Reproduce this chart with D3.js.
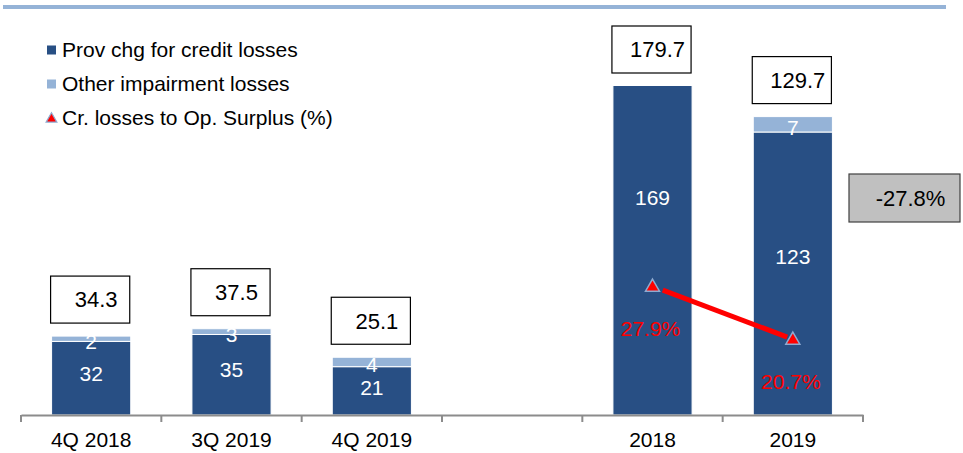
<!DOCTYPE html>
<html>
<head>
<meta charset="utf-8">
<script src="https://cdn.jsdelivr.net/npm/d3@7"></script>
<style>
  html, body { margin: 0; padding: 0; background: #fff; }
  svg { display: block; font-family: "Liberation Sans", Arial, sans-serif; }
</style>
</head>
<body>
<svg id="chart" width="963" height="453"></svg>
<script>
// ---- data ----
const categories = ["4Q 2018", "3Q 2019", "4Q 2019", "", "2018", "2019"];
const provValues = [32, 35, 21, null, 169, 123];
const otherValues = [2.3, 2.5, 4.1, null, 10.7, 6.7];
const totalValues = [34.3, 37.5, 25.1, null, 179.7, 129.7];
const ratioCategories = ["2018", "2019"];
const ratioValues = [27.9, 20.7];
const legendLabels = ["Prov chg for credit losses", "Other impairment losses", "Cr. losses to Op. Surplus (%)"];

// ---- styles ----
const DARK = "#284f84", LIGHT = "#95b3d7", RED = "#ff0000";
const FONT = 21;

const svg = d3.select("#chart");
const plotTop = 86, plotBottom = 415;

const x = d3.scaleBand()
  .domain(d3.range(categories.length))
  .range([21, 863])
  .paddingInner(0.436)
  .paddingOuter(0.218);

const y = d3.scaleLinear().domain([0, 143]).range([plotBottom, plotTop]);
const yPct = d3.scaleLinear().domain([10.4, 55.1]).range([plotBottom, plotTop]);

// top decorative rule
svg.append("rect").attr("x", 3).attr("y", 5).attr("width", 943).attr("height", 4).attr("fill", LIGHT);

// clip for plot area
svg.append("defs").append("clipPath").attr("id", "plotclip")
  .append("rect").attr("x", 0).attr("y", plotTop).attr("width", 963).attr("height", plotBottom - plotTop);

// stacked data
const rows = categories.map((c, i) => ({ i, prov: provValues[i], other: otherValues[i], total: totalValues[i] }))
  .filter(d => d.prov != null);

const bars = svg.append("g").attr("clip-path", "url(#plotclip)");
bars.selectAll("rect.prov").data(rows).join("rect")
  .attr("class", "prov")
  .attr("x", d => x(d.i)).attr("width", x.bandwidth())
  .attr("y", d => y(d.prov)).attr("height", d => y(0) - y(d.prov))
  .attr("fill", DARK).attr("stroke", "#fff").attr("stroke-width", 1);
bars.selectAll("rect.other").data(rows).join("rect")
  .attr("class", "other")
  .attr("x", d => x(d.i)).attr("width", x.bandwidth())
  .attr("y", d => y(d.prov + d.other)).attr("height", d => y(d.prov) - y(d.prov + d.other))
  .attr("fill", LIGHT).attr("stroke", "#fff").attr("stroke-width", 1);

// segment labels
const fmt0 = d3.format(".0f");
svg.append("g").selectAll("text").data(rows).join("text")
  .attr("x", d => x(d.i) + x.bandwidth() / 2)
  .attr("y", d => y(d.prov * 0.56))
  .attr("dy", "0.35em")
  .attr("text-anchor", "middle").attr("fill", "#fff").attr("font-size", FONT)
  .text(d => fmt0(d.prov));
svg.append("g").selectAll("text").data(rows.filter(d => d.prov + d.other / 2 <= y.domain()[1])).join("text")
  .attr("x", d => x(d.i) + x.bandwidth() / 2)
  .attr("y", d => y(d.prov + d.other / 2) + 3)
  .attr("dy", "0.35em")
  .attr("text-anchor", "middle").attr("fill", "#fff").attr("font-size", FONT)
  .text(d => fmt0(d.other));

// total boxes
const boxH = 47, boxGap = 13;
const boxes = svg.append("g").selectAll("g").data(rows).join("g")
  .attr("transform", d => {
    const top = Math.max(y(d.total), plotTop) - boxGap - boxH;
    return `translate(${x(d.i) - 1},${top})`;
  });
boxes.append("rect").attr("width", x.bandwidth()).attr("height", boxH)
  .attr("fill", "#fff").attr("stroke", "#000").attr("stroke-width", 1.2);
boxes.append("text").attr("x", x.bandwidth() / 2 + 6).attr("y", boxH / 2).attr("dy", "0.36em")
  .attr("text-anchor", "middle").attr("font-size", 22).attr("fill", "#000")
  .text(d => d3.format(".1f")(d.total));

// axis
const axisG = svg.append("g").attr("transform", `translate(0,${plotBottom})`)
  .call(d3.axisBottom(x).tickSize(0).tickPadding(17).tickFormat(i => categories[i]));
axisG.select(".domain").attr("stroke", "#8c8c8c").attr("stroke-width", 2);
axisG.selectAll("text").attr("font-size", FONT).attr("fill", "#000").attr("font-family", "Liberation Sans, Arial, sans-serif");
const boundaries = d3.range(categories.length + 1).map(k => x.range()[0] + k * x.step());
axisG.selectAll("line.bound").data(boundaries).join("line")
  .attr("class", "bound")
  .attr("x1", d => d).attr("x2", d => d).attr("y1", 0).attr("y2", 7)
  .attr("stroke", "#8c8c8c").attr("stroke-width", 2);

// ratio line
const idxOf = c => categories.indexOf(c);
const pts = ratioCategories.map((c, k) => ({ x: x(idxOf(c)) + x.bandwidth() / 2, y: yPct(ratioValues[k]), v: ratioValues[k] }));
for (let k = 0; k < pts.length - 1; k++) {
  const a = pts[k], b = pts[k + 1];
  const dx = b.x - a.x, dy = b.y - a.y, len = Math.hypot(dx, dy);
  const s0 = 11 / len, s1 = 6 / len;
  svg.append("line")
    .attr("x1", a.x + dx * s0).attr("y1", a.y + dy * s0)
    .attr("x2", b.x - dx * s1).attr("y2", b.y - dy * s1)
    .attr("stroke", RED).attr("stroke-width", 5);
}
const tri = d3.symbol().type(d3.symbolTriangle).size(85);
svg.append("g").selectAll("path").data(pts).join("path")
  .attr("d", tri)
  .attr("transform", d => `translate(${d.x},${d.y + 1})`)
  .attr("fill", RED).attr("stroke", "#8eaad0").attr("stroke-width", 1.5);
svg.append("g").selectAll("text").data(pts).join("text")
  .attr("x", d => d.x - 2).attr("y", d => d.y + 42).attr("dy", "0.35em")
  .attr("text-anchor", "middle").attr("fill", RED).attr("font-size", FONT)
  .text(d => d3.format(".1f")(d.v) + "%");

// change box
const t0 = totalValues[idxOf("2018")], t1 = totalValues[idxOf("2019")];
const change = (t1 - t0) / t0;
const cg = svg.append("g").attr("transform", "translate(849,174)");
cg.append("rect").attr("width", 111).attr("height", 48).attr("fill", "#c0c0c0").attr("stroke", "#404040").attr("stroke-width", 1.2);
cg.append("text").attr("x", 111 / 2 + 6).attr("y", 24).attr("dy", "0.36em")
  .attr("text-anchor", "middle").attr("font-size", 22).attr("fill", "#000")
  .text(d3.format(".1%")(change).replace("\u2212", "-"));

// legend
const leg = svg.append("g").selectAll("g").data(legendLabels).join("g")
  .attr("transform", (d, i) => `translate(47,${50 + i * 34})`);
leg.filter((d, i) => i < 2).append("rect")
  .attr("x", 0).attr("y", -4.5).attr("width", 9).attr("height", 9)
  .attr("fill", (d, i) => i === 0 ? DARK : LIGHT);
leg.filter((d, i) => i === 2).append("path")
  .attr("d", d3.symbol().type(d3.symbolTriangle).size(50))
  .attr("transform", "translate(4.5,1)")
  .attr("fill", RED).attr("stroke", "#8eaad0").attr("stroke-width", 1.2);
leg.append("text").attr("x", 15).attr("y", 0).attr("dy", "0.35em")
  .attr("font-size", FONT).attr("fill", "#000").text(d => d);
</script>
</body>
</html>
